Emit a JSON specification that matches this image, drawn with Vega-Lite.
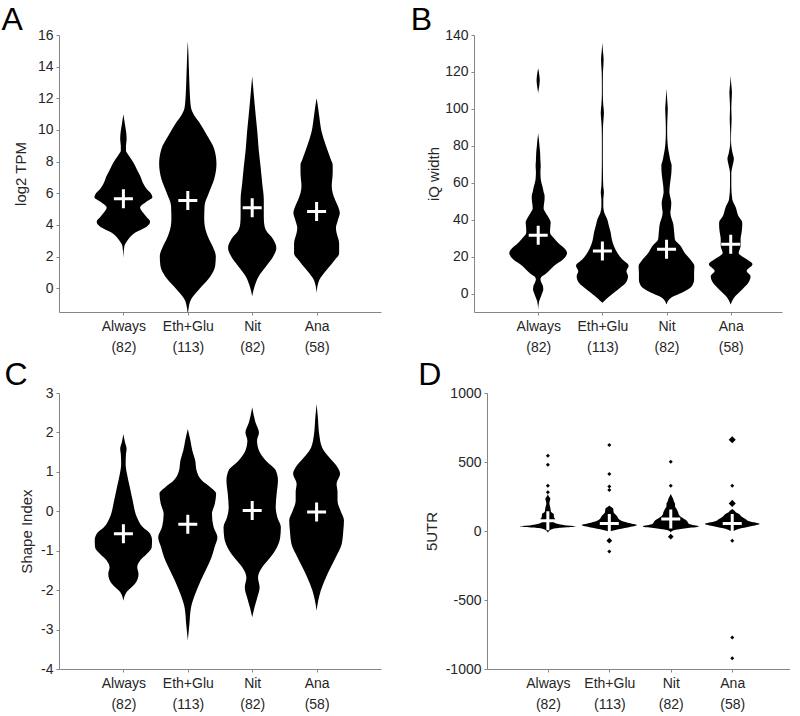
{
"$schema": "https://vega.github.io/schema/vega-lite/v6.json",
"padding": {"left": 1, "top": 4, "right": 0, "bottom": 0},
"config": {
 "font": "Liberation Sans",
 "view": {"stroke": null},
 "axis": {"grid": false, "domainColor": "#858585", "tickColor": "#858585", "labelColor": "#262626", "titleColor": "#262626", "labelFont": "Liberation Sans", "titleFont": "Liberation Sans", "labelFontSize": 14, "titleFontSize": 15, "titleFontWeight": "normal", "tickSize": 3, "labelPadding": 3, "labelFlush": false, "labelOverlap": false},
 "axisX": {"labelPadding": 4, "labelLineHeight": 21.5, "labelAngle": 0},
 "title": {"font": "Liberation Sans", "fontSize": 32, "fontWeight": "normal", "anchor": "start", "frame": "bounds", "baseline": "alphabetic", "offset": -6, "color": "#000000"}
},
"datasets": {
 "vA": [
  {"g":"Always","y":1.9,"w":0},{"g":"Always","y":2.65,"w":0.03},{"g":"Always","y":3.0,"w":0.12},{"g":"Always","y":3.5,"w":0.36},{"g":"Always","y":3.9,"w":0.73},{"g":"Always","y":4.2,"w":0.83},{"g":"Always","y":4.5,"w":0.72},{"g":"Always","y":4.75,"w":0.62},{"g":"Always","y":5.1,"w":0.52},{"g":"Always","y":5.45,"w":0.7},{"g":"Always","y":5.75,"w":0.9},{"g":"Always","y":6.0,"w":0.85},{"g":"Always","y":6.25,"w":0.73},{"g":"Always","y":6.6,"w":0.62},{"g":"Always","y":7.1,"w":0.52},{"g":"Always","y":7.5,"w":0.42},{"g":"Always","y":7.95,"w":0.31},{"g":"Always","y":8.4,"w":0.16},{"g":"Always","y":8.7,"w":0.08},{"g":"Always","y":9.0,"w":0.08},{"g":"Always","y":9.4,"w":0.1},{"g":"Always","y":9.8,"w":0.09},{"g":"Always","y":10.2,"w":0.06},{"g":"Always","y":10.6,"w":0.03},{"g":"Always","y":11.0,"w":0},
  {"g":"Eth+Glu","y":-1.5,"w":0.01},{"g":"Eth+Glu","y":-1.2,"w":0.03},{"g":"Eth+Glu","y":-0.75,"w":0.09},{"g":"Eth+Glu","y":-0.3,"w":0.25},{"g":"Eth+Glu","y":0.1,"w":0.42},{"g":"Eth+Glu","y":0.75,"w":0.7},{"g":"Eth+Glu","y":1.4,"w":0.85},{"g":"Eth+Glu","y":2.0,"w":0.87},{"g":"Eth+Glu","y":2.65,"w":0.77},{"g":"Eth+Glu","y":3.1,"w":0.66},{"g":"Eth+Glu","y":3.5,"w":0.58},{"g":"Eth+Glu","y":4.35,"w":0.51},{"g":"Eth+Glu","y":5.2,"w":0.52},{"g":"Eth+Glu","y":6.0,"w":0.65},{"g":"Eth+Glu","y":6.9,"w":0.82},{"g":"Eth+Glu","y":7.85,"w":0.89},{"g":"Eth+Glu","y":8.8,"w":0.82},{"g":"Eth+Glu","y":9.65,"w":0.6},{"g":"Eth+Glu","y":10.5,"w":0.35},{"g":"Eth+Glu","y":11.0,"w":0.18},{"g":"Eth+Glu","y":11.4,"w":0.1},{"g":"Eth+Glu","y":12.4,"w":0.06},{"g":"Eth+Glu","y":13.2,"w":0.045},{"g":"Eth+Glu","y":14.1,"w":0.03},{"g":"Eth+Glu","y":15.0,"w":0.015},{"g":"Eth+Glu","y":15.6,"w":0},
  {"g":"Nit","y":-0.5,"w":0},{"g":"Nit","y":0.1,"w":0.07},{"g":"Nit","y":0.75,"w":0.2},{"g":"Nit","y":1.4,"w":0.44},{"g":"Nit","y":2.0,"w":0.65},{"g":"Nit","y":2.55,"w":0.75},{"g":"Nit","y":3.1,"w":0.65},{"g":"Nit","y":3.7,"w":0.42},{"g":"Nit","y":4.1,"w":0.37},{"g":"Nit","y":4.55,"w":0.36},{"g":"Nit","y":5.6,"w":0.36},{"g":"Nit","y":6.65,"w":0.31},{"g":"Nit","y":7.7,"w":0.26},{"g":"Nit","y":8.8,"w":0.2},{"g":"Nit","y":9.85,"w":0.16},{"g":"Nit","y":10.9,"w":0.11},{"g":"Nit","y":12.0,"w":0.06},{"g":"Nit","y":12.7,"w":0.03},{"g":"Nit","y":13.4,"w":0},
  {"g":"Ana","y":-0.3,"w":0},{"g":"Ana","y":0.5,"w":0.08},{"g":"Ana","y":1.15,"w":0.31},{"g":"Ana","y":1.8,"w":0.57},{"g":"Ana","y":2.2,"w":0.7},{"g":"Ana","y":2.85,"w":0.7},{"g":"Ana","y":3.5,"w":0.62},{"g":"Ana","y":3.8,"w":0.6},{"g":"Ana","y":4.3,"w":0.66},{"g":"Ana","y":4.75,"w":0.72},{"g":"Ana","y":5.2,"w":0.66},{"g":"Ana","y":5.6,"w":0.57},{"g":"Ana","y":6.45,"w":0.47},{"g":"Ana","y":7.3,"w":0.5},{"g":"Ana","y":7.8,"w":0.5},{"g":"Ana","y":8.15,"w":0.44},{"g":"Ana","y":9.0,"w":0.29},{"g":"Ana","y":9.85,"w":0.16},{"g":"Ana","y":10.9,"w":0.08},{"g":"Ana","y":11.5,"w":0.04},{"g":"Ana","y":12.0,"w":0}
 ],
 "vB": [
  {"g":"Always","y":-8.7,"w":0},{"g":"Always","y":-4.2,"w":0.03},{"g":"Always","y":-1,"w":0.1},{"g":"Always","y":0.4,"w":0.13},{"g":"Always","y":2,"w":0.16},{"g":"Always","y":4,"w":0.15},{"g":"Always","y":6,"w":0.1},{"g":"Always","y":7.6,"w":0.07},{"g":"Always","y":9,"w":0.1},{"g":"Always","y":10.3,"w":0.21},{"g":"Always","y":12.5,"w":0.35},{"g":"Always","y":14.9,"w":0.49},{"g":"Always","y":18.5,"w":0.78},{"g":"Always","y":22,"w":0.9},{"g":"Always","y":24.8,"w":0.8},{"g":"Always","y":27,"w":0.65},{"g":"Always","y":29.4,"w":0.52},{"g":"Always","y":33,"w":0.37},{"g":"Always","y":36.6,"w":0.38},{"g":"Always","y":38.5,"w":0.39},{"g":"Always","y":40.3,"w":0.35},{"g":"Always","y":43.9,"w":0.23},{"g":"Always","y":46,"w":0.17},{"g":"Always","y":48.4,"w":0.18},{"g":"Always","y":51,"w":0.2},{"g":"Always","y":53,"w":0.2},{"g":"Always","y":55,"w":0.17},{"g":"Always","y":57.5,"w":0.14},{"g":"Always","y":62,"w":0.08},{"g":"Always","y":66,"w":0.07},{"g":"Always","y":69,"w":0.08},{"g":"Always","y":72,"w":0.07},{"g":"Always","y":76.5,"w":0.06},{"g":"Always","y":80,"w":0.04},{"g":"Always","y":83.8,"w":0.02},{"g":"Always","y":87,"w":0},{"g":"Always","y":108,"w":0},{"g":"Always","y":112,"w":0.03},{"g":"Always","y":115.5,"w":0.05},{"g":"Always","y":119,"w":0.03},{"g":"Always","y":122,"w":0},
  {"g":"Eth+Glu","y":-5,"w":0},{"g":"Eth+Glu","y":-2.4,"w":0.16},{"g":"Eth+Glu","y":0,"w":0.33},{"g":"Eth+Glu","y":2.2,"w":0.49},{"g":"Eth+Glu","y":5.8,"w":0.73},{"g":"Eth+Glu","y":9.4,"w":0.8},{"g":"Eth+Glu","y":12,"w":0.75},{"g":"Eth+Glu","y":15,"w":0.82},{"g":"Eth+Glu","y":18.5,"w":0.62},{"g":"Eth+Glu","y":22,"w":0.47},{"g":"Eth+Glu","y":25.8,"w":0.36},{"g":"Eth+Glu","y":29,"w":0.3},{"g":"Eth+Glu","y":33,"w":0.26},{"g":"Eth+Glu","y":37,"w":0.2},{"g":"Eth+Glu","y":40.3,"w":0.15},{"g":"Eth+Glu","y":43.9,"w":0.06},{"g":"Eth+Glu","y":47,"w":0.03},{"g":"Eth+Glu","y":51,"w":0.03},{"g":"Eth+Glu","y":54.8,"w":0.05},{"g":"Eth+Glu","y":58,"w":0.03},{"g":"Eth+Glu","y":64,"w":0.02},{"g":"Eth+Glu","y":75,"w":0.015},{"g":"Eth+Glu","y":82,"w":0.015},{"g":"Eth+Glu","y":90,"w":0.02},{"g":"Eth+Glu","y":95,"w":0.04},{"g":"Eth+Glu","y":98,"w":0.05},{"g":"Eth+Glu","y":102,"w":0.03},{"g":"Eth+Glu","y":108,"w":0.015},{"g":"Eth+Glu","y":113,"w":0.015},{"g":"Eth+Glu","y":120,"w":0.02},{"g":"Eth+Glu","y":124,"w":0.035},{"g":"Eth+Glu","y":127,"w":0.04},{"g":"Eth+Glu","y":131,"w":0.02},{"g":"Eth+Glu","y":136,"w":0},
  {"g":"Nit","y":-6,"w":0},{"g":"Nit","y":-2.4,"w":0.13},{"g":"Nit","y":1.3,"w":0.57},{"g":"Nit","y":4,"w":0.79},{"g":"Nit","y":7.6,"w":0.86},{"g":"Nit","y":11.2,"w":0.86},{"g":"Nit","y":14.9,"w":0.87},{"g":"Nit","y":17.6,"w":0.78},{"g":"Nit","y":22,"w":0.57},{"g":"Nit","y":25.8,"w":0.44},{"g":"Nit","y":29.4,"w":0.26},{"g":"Nit","y":33,"w":0.24},{"g":"Nit","y":38.4,"w":0.2},{"g":"Nit","y":41,"w":0.15},{"g":"Nit","y":43.9,"w":0.12},{"g":"Nit","y":46.5,"w":0.14},{"g":"Nit","y":49.3,"w":0.15},{"g":"Nit","y":52,"w":0.12},{"g":"Nit","y":54.8,"w":0.09},{"g":"Nit","y":58,"w":0.1},{"g":"Nit","y":62,"w":0.13},{"g":"Nit","y":65,"w":0.15},{"g":"Nit","y":69.3,"w":0.16},{"g":"Nit","y":72,"w":0.12},{"g":"Nit","y":74.7,"w":0.09},{"g":"Nit","y":80,"w":0.04},{"g":"Nit","y":87.4,"w":0.02},{"g":"Nit","y":93,"w":0.025},{"g":"Nit","y":97,"w":0.035},{"g":"Nit","y":100,"w":0.04},{"g":"Nit","y":104,"w":0.025},{"g":"Nit","y":108,"w":0.01},{"g":"Nit","y":111,"w":0},
  {"g":"Ana","y":-6,"w":0},{"g":"Ana","y":-2.4,"w":0.1},{"g":"Ana","y":2.2,"w":0.36},{"g":"Ana","y":5.8,"w":0.55},{"g":"Ana","y":9.4,"w":0.62},{"g":"Ana","y":12.2,"w":0.5},{"g":"Ana","y":15.8,"w":0.68},{"g":"Ana","y":18.5,"w":0.5},{"g":"Ana","y":22,"w":0.25},{"g":"Ana","y":25.8,"w":0.31},{"g":"Ana","y":29.4,"w":0.31},{"g":"Ana","y":33,"w":0.34},{"g":"Ana","y":36.6,"w":0.36},{"g":"Ana","y":38.5,"w":0.36},{"g":"Ana","y":42,"w":0.24},{"g":"Ana","y":46.6,"w":0.16},{"g":"Ana","y":51,"w":0.05},{"g":"Ana","y":58.4,"w":0.02},{"g":"Ana","y":65,"w":0.02},{"g":"Ana","y":70,"w":0.07},{"g":"Ana","y":72.9,"w":0.1},{"g":"Ana","y":76,"w":0.06},{"g":"Ana","y":80,"w":0.02},{"g":"Ana","y":83.8,"w":0.01},{"g":"Ana","y":90,"w":0.02},{"g":"Ana","y":94.7,"w":0.03},{"g":"Ana","y":100,"w":0.02},{"g":"Ana","y":105,"w":0.03},{"g":"Ana","y":109,"w":0.04},{"g":"Ana","y":113,"w":0.02},{"g":"Ana","y":118,"w":0}
 ],
 "vC": [
  {"g":"Always","y":-2.27,"w":0},{"g":"Always","y":-2.05,"w":0.1},{"g":"Always","y":-1.84,"w":0.36},{"g":"Always","y":-1.59,"w":0.47},{"g":"Always","y":-1.42,"w":0.43},{"g":"Always","y":-1.25,"w":0.52},{"g":"Always","y":-1.08,"w":0.73},{"g":"Always","y":-0.91,"w":0.88},{"g":"Always","y":-0.74,"w":0.89},{"g":"Always","y":-0.57,"w":0.83},{"g":"Always","y":-0.4,"w":0.6},{"g":"Always","y":-0.15,"w":0.42},{"g":"Always","y":0.27,"w":0.29},{"g":"Always","y":0.61,"w":0.2},{"g":"Always","y":0.95,"w":0.11},{"g":"Always","y":1.2,"w":0.07},{"g":"Always","y":1.45,"w":0.08},{"g":"Always","y":1.58,"w":0.1},{"g":"Always","y":1.75,"w":0.05},{"g":"Always","y":1.96,"w":0},
  {"g":"Eth+Glu","y":-3.28,"w":0},{"g":"Eth+Glu","y":-2.86,"w":0.05},{"g":"Eth+Glu","y":-2.44,"w":0.1},{"g":"Eth+Glu","y":-2.1,"w":0.23},{"g":"Eth+Glu","y":-1.76,"w":0.4},{"g":"Eth+Glu","y":-1.42,"w":0.6},{"g":"Eth+Glu","y":-1.16,"w":0.74},{"g":"Eth+Glu","y":-0.91,"w":0.83},{"g":"Eth+Glu","y":-0.66,"w":0.92},{"g":"Eth+Glu","y":-0.4,"w":0.8},{"g":"Eth+Glu","y":-0.07,"w":0.75},{"g":"Eth+Glu","y":0.19,"w":0.84},{"g":"Eth+Glu","y":0.45,"w":0.88},{"g":"Eth+Glu","y":0.61,"w":0.7},{"g":"Eth+Glu","y":0.78,"w":0.44},{"g":"Eth+Glu","y":1.04,"w":0.27},{"g":"Eth+Glu","y":1.29,"w":0.23},{"g":"Eth+Glu","y":1.54,"w":0.14},{"g":"Eth+Glu","y":1.8,"w":0.08},{"g":"Eth+Glu","y":2.09,"w":0},
  {"g":"Nit","y":-2.69,"w":0},{"g":"Nit","y":-2.44,"w":0.07},{"g":"Nit","y":-2.18,"w":0.16},{"g":"Nit","y":-1.93,"w":0.23},{"g":"Nit","y":-1.68,"w":0.18},{"g":"Nit","y":-1.42,"w":0.31},{"g":"Nit","y":-1.16,"w":0.57},{"g":"Nit","y":-0.91,"w":0.77},{"g":"Nit","y":-0.66,"w":0.87},{"g":"Nit","y":-0.4,"w":0.89},{"g":"Nit","y":-0.15,"w":0.78},{"g":"Nit","y":0.1,"w":0.73},{"g":"Nit","y":0.45,"w":0.76},{"g":"Nit","y":0.78,"w":0.8},{"g":"Nit","y":1.04,"w":0.73},{"g":"Nit","y":1.29,"w":0.42},{"g":"Nit","y":1.54,"w":0.21},{"g":"Nit","y":1.8,"w":0.15},{"g":"Nit","y":2.0,"w":0.21},{"g":"Nit","y":2.26,"w":0.1},{"g":"Nit","y":2.64,"w":0},
  {"g":"Ana","y":-2.52,"w":0},{"g":"Ana","y":-2.27,"w":0.05},{"g":"Ana","y":-2.01,"w":0.13},{"g":"Ana","y":-1.68,"w":0.29},{"g":"Ana","y":-1.42,"w":0.44},{"g":"Ana","y":-1.08,"w":0.65},{"g":"Ana","y":-0.83,"w":0.78},{"g":"Ana","y":-0.49,"w":0.83},{"g":"Ana","y":-0.23,"w":0.85},{"g":"Ana","y":0.02,"w":0.74},{"g":"Ana","y":0.27,"w":0.65},{"g":"Ana","y":0.49,"w":0.65},{"g":"Ana","y":0.7,"w":0.62},{"g":"Ana","y":0.95,"w":0.73},{"g":"Ana","y":1.12,"w":0.65},{"g":"Ana","y":1.37,"w":0.39},{"g":"Ana","y":1.62,"w":0.17},{"g":"Ana","y":1.96,"w":0.08},{"g":"Ana","y":2.38,"w":0.04},{"g":"Ana","y":2.72,"w":0}
 ],
 "vD": [
  {"g":"Always","y":-12,"w":0},{"g":"Always","y":0,"w":0.04},{"g":"Always","y":15,"w":0.15},{"g":"Always","y":25,"w":0.5},{"g":"Always","y":33,"w":0.9},{"g":"Always","y":42,"w":0.55},{"g":"Always","y":52,"w":0.3},{"g":"Always","y":65,"w":0.2},{"g":"Always","y":85,"w":0.24},{"g":"Always","y":100,"w":0.2},{"g":"Always","y":123,"w":0.19},{"g":"Always","y":140,"w":0.1},{"g":"Always","y":171,"w":0.08},{"g":"Always","y":200,"w":0.05},{"g":"Always","y":234,"w":0.08},{"g":"Always","y":255,"w":0.02},{"g":"Always","y":270,"w":0},
  {"g":"Eth+Glu","y":-5,"w":0},{"g":"Eth+Glu","y":7,"w":0.2},{"g":"Eth+Glu","y":25,"w":0.6},{"g":"Eth+Glu","y":43,"w":0.9},{"g":"Eth+Glu","y":60,"w":0.6},{"g":"Eth+Glu","y":80,"w":0.35},{"g":"Eth+Glu","y":111,"w":0.24},{"g":"Eth+Glu","y":135,"w":0.14},{"g":"Eth+Glu","y":160,"w":0.13},{"g":"Eth+Glu","y":175,"w":0.05},{"g":"Eth+Glu","y":185,"w":0},
  {"g":"Nit","y":-10,"w":0},{"g":"Nit","y":5,"w":0.1},{"g":"Nit","y":20,"w":0.5},{"g":"Nit","y":33,"w":0.91},{"g":"Nit","y":50,"w":0.6},{"g":"Nit","y":75,"w":0.52},{"g":"Nit","y":99,"w":0.35},{"g":"Nit","y":120,"w":0.26},{"g":"Nit","y":135,"w":0.24},{"g":"Nit","y":160,"w":0.19},{"g":"Nit","y":180,"w":0.14},{"g":"Nit","y":196,"w":0.14},{"g":"Nit","y":215,"w":0.1},{"g":"Nit","y":232,"w":0.08},{"g":"Nit","y":250,"w":0.04},{"g":"Nit","y":268,"w":0},
  {"g":"Ana","y":-5,"w":0},{"g":"Ana","y":15,"w":0.2},{"g":"Ana","y":35,"w":0.6},{"g":"Ana","y":51,"w":0.89},{"g":"Ana","y":70,"w":0.55},{"g":"Ana","y":87,"w":0.43},{"g":"Ana","y":105,"w":0.3},{"g":"Ana","y":123,"w":0.22},{"g":"Ana","y":135,"w":0.12},{"g":"Ana","y":147,"w":0.08},{"g":"Ana","y":160,"w":0}
 ],
 "med": [
  {"p":"A","g":"Always","y":5.66},{"p":"A","g":"Eth+Glu","y":5.55},{"p":"A","g":"Nit","y":5.08},{"p":"A","g":"Ana","y":4.85},
  {"p":"B","g":"Always","y":31.6},{"p":"B","g":"Eth+Glu","y":23},{"p":"B","g":"Nit","y":24},{"p":"B","g":"Ana","y":26.7},
  {"p":"C","g":"Always","y":-0.57},{"p":"C","g":"Eth+Glu","y":-0.33},{"p":"C","g":"Nit","y":0.02},{"p":"C","g":"Ana","y":-0.02},
  {"p":"D","g":"Always","y":75},{"p":"D","g":"Eth+Glu","y":55},{"p":"D","g":"Nit","y":87},{"p":"D","g":"Ana","y":55}
 ],
 "outD": [
  {"g":"Always","y":546,"n":1},{"g":"Always","y":480,"n":1},{"g":"Always","y":328,"n":1},{"g":"Always","y":280,"n":1},
  {"g":"Eth+Glu","y":623,"n":1},{"g":"Eth+Glu","y":413,"n":1},{"g":"Eth+Glu","y":323,"n":1},{"g":"Eth+Glu","y":297,"n":1},{"g":"Eth+Glu","y":-70,"n":2},{"g":"Eth+Glu","y":-148,"n":1},
  {"g":"Nit","y":502,"n":1},{"g":"Nit","y":328,"n":1},{"g":"Nit","y":-41,"n":2},
  {"g":"Ana","y":661,"n":3},{"g":"Ana","y":328,"n":1},{"g":"Ana","y":200,"n":3},{"g":"Ana","y":-70,"n":1},{"g":"Ana","y":-771,"n":1},{"g":"Ana","y":-923,"n":1}
 ]
},
"vconcat": [
 {"hconcat": [
  {"width": 322, "height": 277,
   "title": {"text": "A", "dx": -12, "offset": -9},
   "resolve": {"scale": {"x": "independent"}, "axis": {"x": "independent"}},
   "layer": [
    {"data": {"name": "vA"}, "transform": [{"filter": "datum.g == 'Always'"}], "mark": {"type": "area", "orient": "horizontal", "interpolate": "monotone", "color": "black"},
     "encoding": {"y": {"field": "y", "type": "quantitative", "scale": {"domain": [-1.5, 16], "nice": false, "zero": false}, "axis": {"title": "log2 TPM", "values": [0,2,4,6,8,10,12,14,16], "titlePadding": 9}},
      "x": {"field": "w", "type": "quantitative", "stack": "center", "impute": null, "scale": {"domain": [-0.55, 4.45], "nice": false, "zero": false}, "axis": null}}},
    {"data": {"name": "vA"}, "transform": [{"filter": "datum.g == 'Eth+Glu'"}], "mark": {"type": "area", "orient": "horizontal", "interpolate": "monotone", "color": "black"},
     "encoding": {"y": {"field": "y", "type": "quantitative", "scale": {"domain": [-1.5, 16], "nice": false, "zero": false}, "axis": {"title": "log2 TPM", "values": [0,2,4,6,8,10,12,14,16], "titlePadding": 9}},
      "x": {"field": "w", "type": "quantitative", "stack": "center", "impute": null, "scale": {"domain": [-1.555, 3.445], "nice": false, "zero": false}, "axis": null}}},
    {"data": {"name": "vA"}, "transform": [{"filter": "datum.g == 'Nit'"}], "mark": {"type": "area", "orient": "horizontal", "interpolate": "monotone", "color": "black"},
     "encoding": {"y": {"field": "y", "type": "quantitative", "scale": {"domain": [-1.5, 16], "nice": false, "zero": false}, "axis": {"title": "log2 TPM", "values": [0,2,4,6,8,10,12,14,16], "titlePadding": 9}},
      "x": {"field": "w", "type": "quantitative", "stack": "center", "impute": null, "scale": {"domain": [-2.625, 2.375], "nice": false, "zero": false}, "axis": null}}},
    {"data": {"name": "vA"}, "transform": [{"filter": "datum.g == 'Ana'"}], "mark": {"type": "area", "orient": "horizontal", "interpolate": "monotone", "color": "black"},
     "encoding": {"y": {"field": "y", "type": "quantitative", "scale": {"domain": [-1.5, 16], "nice": false, "zero": false}, "axis": {"title": "log2 TPM", "values": [0,2,4,6,8,10,12,14,16], "titlePadding": 9}},
      "x": {"field": "w", "type": "quantitative", "stack": "center", "impute": null, "scale": {"domain": [-3.64, 1.36], "nice": false, "zero": false}, "axis": null}}},
    {"data": {"name": "med"}, "transform": [{"filter": "datum.p == 'A'"}], "mark": {"type": "point", "shape": "M-1,0H1M0,-1V1", "filled": false, "color": "white", "strokeWidth": 3, "size": 361, "opacity": 1},
     "encoding": {"y": {"field": "y", "type": "quantitative", "scale": {"domain": [-1.5, 16], "nice": false, "zero": false}, "axis": {"title": "log2 TPM", "values": [0,2,4,6,8,10,12,14,16], "titlePadding": 9}},
      "x": {"field": "g", "type": "nominal", "sort": ["Always","Eth+Glu","Nit","Ana"], "scale": {"type": "point", "domain": ["Always","Eth+Glu","Nit","Ana"], "padding": 1, "align": 0.5},
       "axis": {"title": null, "labelExpr": "[datum.value, datum.value == 'Always' ? '(82)' : datum.value == 'Eth+Glu' ? '(113)' : datum.value == 'Nit' ? '(82)' : '(58)']"}}}}
   ]},
  {"width": 308, "height": 277,
   "title": {"text": "B", "dx": -16, "offset": -9},
   "resolve": {"scale": {"x": "independent"}, "axis": {"x": "independent"}},
   "layer": [
    {"data": {"name": "vB"}, "transform": [{"filter": "datum.g == 'Always'"}], "mark": {"type": "area", "orient": "horizontal", "interpolate": "monotone", "color": "black"},
     "encoding": {"y": {"field": "y", "type": "quantitative", "scale": {"domain": [-10, 140], "nice": false, "zero": false}, "axis": {"title": "iQ width", "values": [0,20,40,60,80,100,120,140], "titlePadding": 3}},
      "x": {"field": "w", "type": "quantitative", "stack": "center", "impute": null, "scale": {"domain": [-0.55, 4.25], "nice": false, "zero": false}, "axis": null}}},
    {"data": {"name": "vB"}, "transform": [{"filter": "datum.g == 'Eth+Glu'"}], "mark": {"type": "area", "orient": "horizontal", "interpolate": "monotone", "color": "black"},
     "encoding": {"y": {"field": "y", "type": "quantitative", "scale": {"domain": [-10, 140], "nice": false, "zero": false}, "axis": {"title": "iQ width", "values": [0,20,40,60,80,100,120,140], "titlePadding": 3}},
      "x": {"field": "w", "type": "quantitative", "stack": "center", "impute": null, "scale": {"domain": [-1.59, 3.21], "nice": false, "zero": false}, "axis": null}}},
    {"data": {"name": "vB"}, "transform": [{"filter": "datum.g == 'Nit'"}], "mark": {"type": "area", "orient": "horizontal", "interpolate": "monotone", "color": "black"},
     "encoding": {"y": {"field": "y", "type": "quantitative", "scale": {"domain": [-10, 140], "nice": false, "zero": false}, "axis": {"title": "iQ width", "values": [0,20,40,60,80,100,120,140], "titlePadding": 3}},
      "x": {"field": "w", "type": "quantitative", "stack": "center", "impute": null, "scale": {"domain": [-2.565, 2.235], "nice": false, "zero": false}, "axis": null}}},
    {"data": {"name": "vB"}, "transform": [{"filter": "datum.g == 'Ana'"}], "mark": {"type": "area", "orient": "horizontal", "interpolate": "monotone", "color": "black"},
     "encoding": {"y": {"field": "y", "type": "quantitative", "scale": {"domain": [-10, 140], "nice": false, "zero": false}, "axis": {"title": "iQ width", "values": [0,20,40,60,80,100,120,140], "titlePadding": 3}},
      "x": {"field": "w", "type": "quantitative", "stack": "center", "impute": null, "scale": {"domain": [-3.66, 1.14], "nice": false, "zero": false}, "axis": null}}},
    {"data": {"name": "med"}, "transform": [{"filter": "datum.p == 'B'"}], "mark": {"type": "point", "shape": "M-1,0H1M0,-1V1", "filled": false, "color": "white", "strokeWidth": 3, "size": 361, "opacity": 1},
     "encoding": {"y": {"field": "y", "type": "quantitative", "scale": {"domain": [-10, 140], "nice": false, "zero": false}, "axis": {"title": "iQ width", "values": [0,20,40,60,80,100,120,140], "titlePadding": 3}},
      "x": {"field": "g", "type": "nominal", "sort": ["Always","Eth+Glu","Nit","Ana"], "scale": {"type": "point", "domain": ["Always","Eth+Glu","Nit","Ana"], "padding": 0.9, "align": 0.556},
       "axis": {"title": null, "labelExpr": "[datum.value, datum.value == 'Always' ? '(82)' : datum.value == 'Eth+Glu' ? '(113)' : datum.value == 'Nit' ? '(82)' : '(58)']"}}}}
   ]}
 ], "spacing": 29},
 {"hconcat": [
  {"width": 322, "height": 276,
   "title": {"text": "C", "dx": -15},
   "resolve": {"scale": {"x": "independent"}, "axis": {"x": "independent"}},
   "layer": [
    {"data": {"name": "vC"}, "transform": [{"filter": "datum.g == 'Always'"}], "mark": {"type": "area", "orient": "horizontal", "interpolate": "monotone", "color": "black"},
     "encoding": {"y": {"field": "y", "type": "quantitative", "scale": {"domain": [-4, 3], "nice": false, "zero": false}, "axis": {"title": "Shape Index", "values": [-4,-3,-2,-1,0,1,2,3], "titlePadding": 6, "labelExpr": "datum.value < 0 ? '-' + format(-datum.value, 'd') : format(datum.value, 'd')"}},
      "x": {"field": "w", "type": "quantitative", "stack": "center", "impute": null, "scale": {"domain": [-0.555, 4.445], "nice": false, "zero": false}, "axis": null}}},
    {"data": {"name": "vC"}, "transform": [{"filter": "datum.g == 'Eth+Glu'"}], "mark": {"type": "area", "orient": "horizontal", "interpolate": "monotone", "color": "black"},
     "encoding": {"y": {"field": "y", "type": "quantitative", "scale": {"domain": [-4, 3], "nice": false, "zero": false}, "axis": {"title": "Shape Index", "values": [-4,-3,-2,-1,0,1,2,3], "titlePadding": 6, "labelExpr": "datum.value < 0 ? '-' + format(-datum.value, 'd') : format(datum.value, 'd')"}},
      "x": {"field": "w", "type": "quantitative", "stack": "center", "impute": null, "scale": {"domain": [-1.54, 3.46], "nice": false, "zero": false}, "axis": null}}},
    {"data": {"name": "vC"}, "transform": [{"filter": "datum.g == 'Nit'"}], "mark": {"type": "area", "orient": "horizontal", "interpolate": "monotone", "color": "black"},
     "encoding": {"y": {"field": "y", "type": "quantitative", "scale": {"domain": [-4, 3], "nice": false, "zero": false}, "axis": {"title": "Shape Index", "values": [-4,-3,-2,-1,0,1,2,3], "titlePadding": 6, "labelExpr": "datum.value < 0 ? '-' + format(-datum.value, 'd') : format(datum.value, 'd')"}},
      "x": {"field": "w", "type": "quantitative", "stack": "center", "impute": null, "scale": {"domain": [-2.555, 2.445], "nice": false, "zero": false}, "axis": null}}},
    {"data": {"name": "vC"}, "transform": [{"filter": "datum.g == 'Ana'"}], "mark": {"type": "area", "orient": "horizontal", "interpolate": "monotone", "color": "black"},
     "encoding": {"y": {"field": "y", "type": "quantitative", "scale": {"domain": [-4, 3], "nice": false, "zero": false}, "axis": {"title": "Shape Index", "values": [-4,-3,-2,-1,0,1,2,3], "titlePadding": 6, "labelExpr": "datum.value < 0 ? '-' + format(-datum.value, 'd') : format(datum.value, 'd')"}},
      "x": {"field": "w", "type": "quantitative", "stack": "center", "impute": null, "scale": {"domain": [-3.575, 1.425], "nice": false, "zero": false}, "axis": null}}},
    {"data": {"name": "med"}, "transform": [{"filter": "datum.p == 'C'"}], "mark": {"type": "point", "shape": "M-1,0H1M0,-1V1", "filled": false, "color": "white", "strokeWidth": 3, "size": 361, "opacity": 1},
     "encoding": {"y": {"field": "y", "type": "quantitative", "scale": {"domain": [-4, 3], "nice": false, "zero": false}, "axis": {"title": "Shape Index", "values": [-4,-3,-2,-1,0,1,2,3], "titlePadding": 6, "labelExpr": "datum.value < 0 ? '-' + format(-datum.value, 'd') : format(datum.value, 'd')"}},
      "x": {"field": "g", "type": "nominal", "sort": ["Always","Eth+Glu","Nit","Ana"], "scale": {"type": "point", "domain": ["Always","Eth+Glu","Nit","Ana"], "padding": 1, "align": 0.5},
       "axis": {"title": null, "labelExpr": "[datum.value, datum.value == 'Always' ? '(82)' : datum.value == 'Eth+Glu' ? '(113)' : datum.value == 'Nit' ? '(82)' : '(58)']"}}}}
   ]},
  {"width": 303, "height": 276,
   "title": {"text": "D", "dx": -6},
   "resolve": {"scale": {"x": "independent"}, "axis": {"x": "independent"}},
   "layer": [
    {"data": {"name": "vD"}, "transform": [{"filter": "datum.g == 'Always'"}], "mark": {"type": "area", "orient": "horizontal", "interpolate": "monotone", "color": "black"},
     "encoding": {"y": {"field": "y", "type": "quantitative", "scale": {"domain": [-1000, 1000], "nice": false, "zero": false}, "axis": {"title": "5UTR", "values": [-1000,-500,0,500,1000], "titlePadding": 6, "labelExpr": "datum.value < 0 ? '-' + format(-datum.value, 'd') : format(datum.value, 'd')"}},
      "x": {"field": "w", "type": "quantitative", "stack": "center", "impute": null, "scale": {"domain": [-0.54, 4.39], "nice": false, "zero": false}, "axis": null}}},
    {"data": {"name": "vD"}, "transform": [{"filter": "datum.g == 'Eth+Glu'"}], "mark": {"type": "area", "orient": "horizontal", "interpolate": "monotone", "color": "black"},
     "encoding": {"y": {"field": "y", "type": "quantitative", "scale": {"domain": [-1000, 1000], "nice": false, "zero": false}, "axis": {"title": "5UTR", "values": [-1000,-500,0,500,1000], "titlePadding": 6, "labelExpr": "datum.value < 0 ? '-' + format(-datum.value, 'd') : format(datum.value, 'd')"}},
      "x": {"field": "w", "type": "quantitative", "stack": "center", "impute": null, "scale": {"domain": [-1.54, 3.39], "nice": false, "zero": false}, "axis": null}}},
    {"data": {"name": "vD"}, "transform": [{"filter": "datum.g == 'Nit'"}], "mark": {"type": "area", "orient": "horizontal", "interpolate": "monotone", "color": "black"},
     "encoding": {"y": {"field": "y", "type": "quantitative", "scale": {"domain": [-1000, 1000], "nice": false, "zero": false}, "axis": {"title": "5UTR", "values": [-1000,-500,0,500,1000], "titlePadding": 6, "labelExpr": "datum.value < 0 ? '-' + format(-datum.value, 'd') : format(datum.value, 'd')"}},
      "x": {"field": "w", "type": "quantitative", "stack": "center", "impute": null, "scale": {"domain": [-2.535, 2.395], "nice": false, "zero": false}, "axis": null}}},
    {"data": {"name": "vD"}, "transform": [{"filter": "datum.g == 'Ana'"}], "mark": {"type": "area", "orient": "horizontal", "interpolate": "monotone", "color": "black"},
     "encoding": {"y": {"field": "y", "type": "quantitative", "scale": {"domain": [-1000, 1000], "nice": false, "zero": false}, "axis": {"title": "5UTR", "values": [-1000,-500,0,500,1000], "titlePadding": 6, "labelExpr": "datum.value < 0 ? '-' + format(-datum.value, 'd') : format(datum.value, 'd')"}},
      "x": {"field": "w", "type": "quantitative", "stack": "center", "impute": null, "scale": {"domain": [-3.545, 1.385], "nice": false, "zero": false}, "axis": null}}},
    {"data": {"name": "outD"}, "mark": {"type": "point", "shape": "diamond", "filled": true, "color": "black", "opacity": 1},
     "encoding": {"y": {"field": "y", "type": "quantitative", "scale": {"domain": [-1000, 1000], "nice": false, "zero": false}, "axis": {"title": "5UTR", "values": [-1000,-500,0,500,1000], "titlePadding": 6, "labelExpr": "datum.value < 0 ? '-' + format(-datum.value, 'd') : format(datum.value, 'd')"}},
      "x": {"field": "g", "type": "nominal", "sort": ["Always","Eth+Glu","Nit","Ana"], "scale": {"type": "point", "domain": ["Always","Eth+Glu","Nit","Ana"], "padding": 0.965, "align": 0.513}, "axis": null},
      "size": {"field": "n", "type": "quantitative", "scale": {"domain": [1, 3], "range": [16, 50]}, "legend": null}}},
    {"data": {"name": "med"}, "transform": [{"filter": "datum.p == 'D'"}], "mark": {"type": "point", "shape": "M-1,0H1M0,-1V1", "filled": false, "color": "white", "strokeWidth": 3, "size": 361, "opacity": 1},
     "encoding": {"y": {"field": "y", "type": "quantitative", "scale": {"domain": [-1000, 1000], "nice": false, "zero": false}, "axis": {"title": "5UTR", "values": [-1000,-500,0,500,1000], "titlePadding": 6, "labelExpr": "datum.value < 0 ? '-' + format(-datum.value, 'd') : format(datum.value, 'd')"}},
      "x": {"field": "g", "type": "nominal", "sort": ["Always","Eth+Glu","Nit","Ana"], "scale": {"type": "point", "domain": ["Always","Eth+Glu","Nit","Ana"], "padding": 0.965, "align": 0.513},
       "axis": {"title": null, "labelExpr": "[datum.value, datum.value == 'Always' ? '(82)' : datum.value == 'Eth+Glu' ? '(113)' : datum.value == 'Nit' ? '(82)' : '(58)']"}}}}
   ]}
 ], "spacing": 37}
],
"spacing": 4
}
